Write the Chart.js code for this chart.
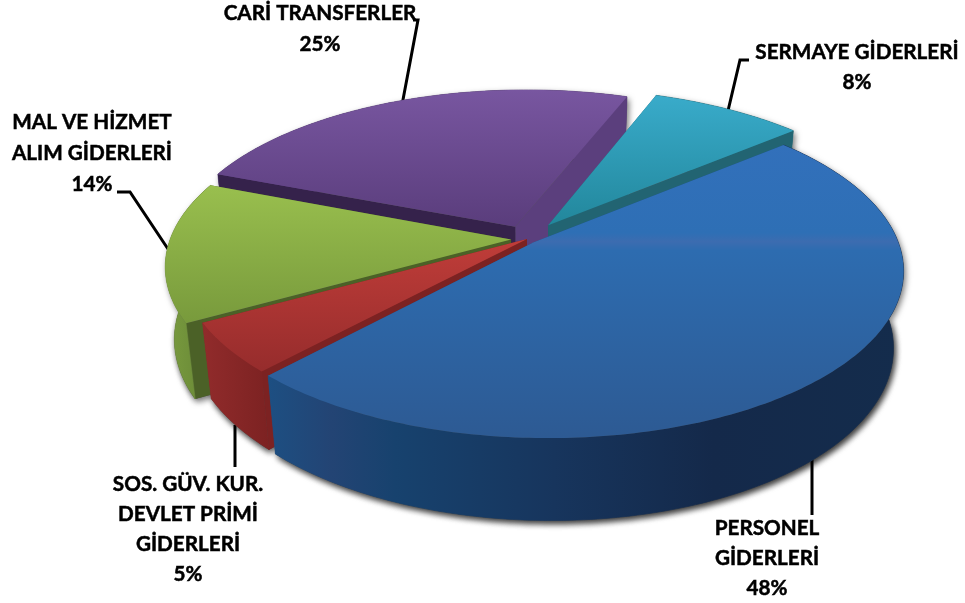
<!DOCTYPE html>
<html><head><meta charset="utf-8">
<style>html,body{margin:0;padding:0;background:#fff}canvas{display:block}</style>
<script src="https://cdn.jsdelivr.net/npm/chart.js@4"></script>
</head><body><canvas id="c" width="965" height="603"></canvas>
<script>
const categories = ["PERSONEL GİDERLERİ","SOS. GÜV. KUR. DEVLET PRİMİ GİDERLERİ","MAL VE HİZMET ALIM GİDERLERİ","CARİ TRANSFERLER","SERMAYE GİDERLERİ"];
const values = [48,5,14,25,8];
const explode = [8,0,13,24,30];
const topStops = [
 [[0,'#3270bb'],[.3,'#2e6fb5'],[.33,'#3c6cb0'],[.36,'#2d6cb0'],[1,'#2d5a93']],
 [[0,'#c03d39'],[1,'#962c2c']],
 [[0,'#99bf4e'],[1,'#789a3c']],
 [[0,'#7856a0'],[1,'#5a3d7c']],
 [[0,'#39abca'],[1,'#22879c']]
];
const wallStops = [
 [[0,'#1d4f82'],[.1,'#234474'],[.2,'#17426e'],[.45,'#17355d'],[.7,'#14294a'],[1,'#142c4c']],
 [[0,'#912b2b'],[1,'#7c2222']],
 [[0,'#7a9c3f'],[1,'#648334']],
 [[0,'#5b3f7d'],[1,'#5b3f7d']],
 [[0,'#25717f'],[1,'#25717f']]
];
const startWall = ['#1d4f82','#7c2222','#4b6127','#35224b','#226472'];
const endWall = ['#1d4f82','#7c2222','#4b6127','#5b3f7d','#226472'];
const paintOrder = [3,4,2,1,0];
const labels = [
 {lines:["PERSONEL","GİDERLERİ","48%"],x:767,y:[528,558,588]},
 {lines:["SOS. GÜV. KUR.","DEVLET PRİMİ","GİDERLERİ","5%"],x:188,y:[484,514,544,574]},
 {lines:["MAL VE HİZMET","ALIM GİDERLERİ","14%"],x:92,y:[122,153,184]},
 {lines:["CARİ TRANSFERLER","25%"],x:320,y:[13,44]},
 {lines:["SERMAYE GİDERLERİ","8%"],x:857,y:[52,82]}
];
const leaders = [
 [[812,450],[812,515]],
 [[235,425],[235,467]],
 [[170,252],[130,192],[117,192]],
 [[402,105],[418,20],[413,20]],
 [[727,115],[740,60],[749,60]]
];
const view = {x0:527,y0:239,a:352,b:162.7,k:0.162,j:0.03,m:0.026,d:76};
function project(u,v,z){
  const w = 1 - view.k*v - view.j*u + view.m*z;
  return [view.x0 + view.a*u/w, view.y0 + (view.b*v + view.d*z)/w];
}
function sliceInfo(el){
  const p = el.getProps(['startAngle','endAngle','outerRadius']);
  return {...p, mid:(p.startAngle+p.endAngle)/2};
}
function slicePts(el,z){
  const p = sliceInfo(el), off=(el.options.offset||0)/p.outerRadius;
  const ox=Math.cos(p.mid)*off, oy=Math.sin(p.mid)*off;
  const arc=[], n=Math.max(4,Math.ceil((p.endAngle-p.startAngle)*60));
  for(let i=0;i<=n;i++){const t=p.startAngle+(p.endAngle-p.startAngle)*i/n;
    arc.push(project(ox+Math.cos(t),oy+Math.sin(t),z));}
  return {arc,apex:project(ox,oy,z)};
}
function path(ctx,pts){ctx.beginPath();pts.forEach((q,i)=>i?ctx.lineTo(q[0],q[1]):ctx.moveTo(q[0],q[1]));ctx.closePath();}
function grad(ctx,x0,y0,x1,y1,stops){const g=ctx.createLinearGradient(x0,y0,x1,y1);stops.forEach(s=>g.addColorStop(s[0],s[1]));return g;}
const pie3d = {
  id:'pie3d',
  beforeDatasetsDraw(chart){
    const ctx=chart.ctx, els=chart.getDatasetMeta(0).data;
    ctx.save();
    ctx.strokeStyle='#000';ctx.lineWidth=3;ctx.lineJoin='miter';
    leaders.forEach(l=>{ctx.beginPath();l.forEach((q,i)=>i?ctx.lineTo(q[0],q[1]):ctx.moveTo(q[0],q[1]));ctx.stroke();});
    ctx.restore();
    ctx.save();
    ctx.shadowColor='rgba(0,0,0,0.55)';ctx.shadowBlur=6;ctx.shadowOffsetX=2;ctx.shadowOffsetY=3;
    paintOrder.forEach(i=>{const t=slicePts(els[i],0),b=slicePts(els[i],1);ctx.fillStyle='#555';
      path(ctx,[b.apex,...b.arc]);ctx.fill();
      path(ctx,[...t.arc,...b.arc.slice().reverse()]);ctx.fill();});
    ctx.restore();
    paintOrder.forEach(i=>{
      const t=slicePts(els[i],0), b=slicePts(els[i],1);
      const n=t.arc.length-1;
      const xs=[...t.arc,...b.arc].map(q=>q[0]);
      const gw=grad(ctx,Math.min(...xs),0,Math.max(...xs),0,wallStops[i]);
      const outer=()=>{path(ctx,[...t.arc,...b.arc.slice().reverse()]);ctx.fillStyle=gw;ctx.fill();
        ctx.strokeStyle=gw;ctx.lineWidth=.6;ctx.stroke();};
      const facingBack=Math.sin(sliceInfo(els[i]).mid)<0;
      if(facingBack) outer();
      path(ctx,[t.apex,t.arc[n],b.arc[n],b.apex]);ctx.fillStyle=endWall[i];ctx.fill();
      path(ctx,[t.apex,t.arc[0],b.arc[0],b.apex]);ctx.fillStyle=startWall[i];ctx.fill();
      if(!facingBack) outer();
      const ys=[t.apex,...t.arc].map(q=>q[1]);
      const gt=grad(ctx,0,Math.min(...ys),0,Math.max(...ys),topStops[i]);
      path(ctx,[t.apex,...t.arc]);ctx.fillStyle=gt;ctx.fill();
    });
    return false;
  },
  afterDraw(chart){
    const ctx=chart.ctx;ctx.save();
    ctx.fillStyle='#000';ctx.strokeStyle='#000';ctx.lineWidth=.5;ctx.font='bold 20.7px Lato';ctx.textAlign='center';ctx.textBaseline='middle';
    labels.forEach(l=>l.lines.forEach((s,i)=>{ctx.fillText(s,l.x,l.y[i]);ctx.strokeText(s,l.x,l.y[i]);}));
    ctx.restore();
  }
};
new Chart(document.getElementById('c'),{
  type:'pie',
  data:{labels:categories,datasets:[{data:values,offset:explode,borderWidth:0,
    backgroundColor:['#2e6cb0','#ab3535','#88ad46','#6a4a8e','#2f9ab5']}]},
  options:{responsive:false,animation:false,rotation:50,events:[],
    plugins:{legend:{display:false},tooltip:{enabled:false}}},
  plugins:[pie3d]
});
</script></body></html>
